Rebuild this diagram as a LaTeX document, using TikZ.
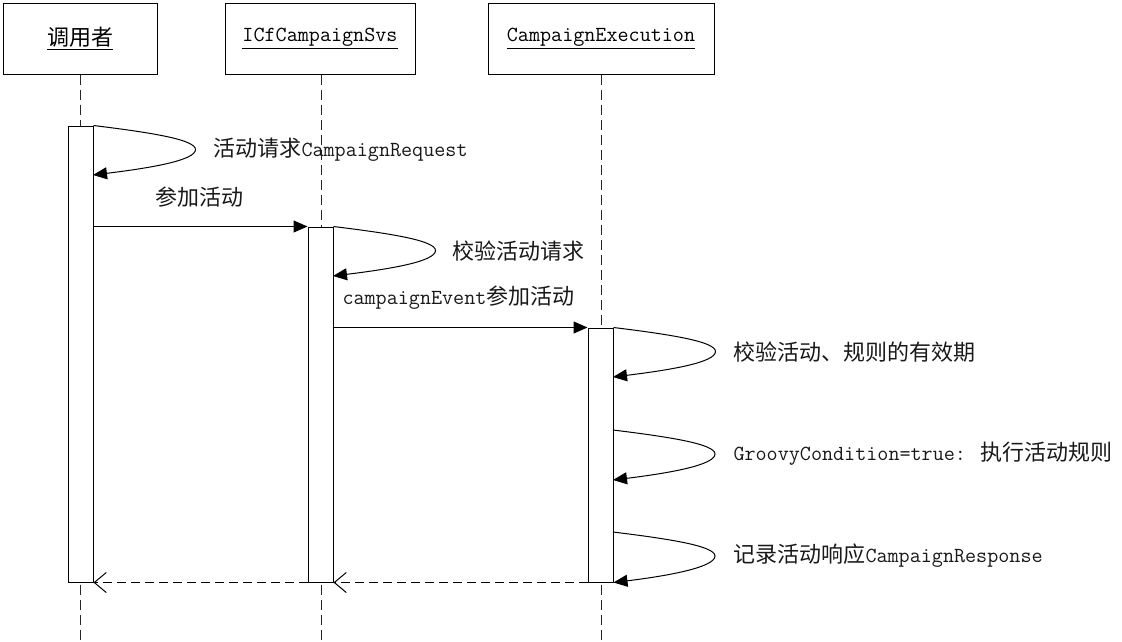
\documentclass[tikz,border=0pt]{standalone}
\usepackage{fontspec}
\newfontfamily\cjk{Noto Sans CJK SC}
\usetikzlibrary{arrows.meta,calc}
\newcommand\zh[1]{{\cjk\fontsize{22}{24}\selectfont #1}}
\newcommand\lt{\ttfamily\fontsize{21.5}{24}\selectfont}
\begin{document}
\begin{tikzpicture}[x=1pt,y=-1pt,line width=1pt,
  box/.style={draw, fill=white, minimum width=#1, minimum height=71pt, inner sep=0, font=\lt},
  bar/.style={draw, fill=white, minimum width=25pt, inner sep=0},
  life/.style={draw=black!85, dash pattern=on 10pt off 5pt},
  msg/.style={-{Triangle[length=14pt,width=12pt]}},
  ret/.style={dash pattern=on 9pt off 5pt, -{Straight Barb[length=12pt,width=20pt,line width=1pt]}},
  lbl/.style={anchor=west, inner sep=0, font=\lt, text=black!90},
  selfloop/.style={to path={.. controls ($(\tikztostart)+(57,7)$) and ($(\tikztostart)+(102,14)$) .. ($(\tikztostart)+(102,24)$) .. controls ($(\tikztostart)+(102,35)$) and ($(\tikztotarget)+(57,-7)$) .. (\tikztotarget)}}]
\useasboundingbox (0,0) rectangle (1122,641);
% header boxes
\node[box=154pt] (A) at (80,38.5) {$\underline{\hbox{\zh{调用者}}}$};
\node[box=190pt] (B) at (320,38.5) {$\underline{\hbox{\lt ICfCampaignSvs}}$};
\node[box=226pt] (C) at (601,38.5) {$\underline{\hbox{\lt CampaignExecution}}$};
% lifeline ends
\coordinate (Ae) at (80,641);
\coordinate (Be) at (321,641);
\coordinate (Ce) at (601,641);
\draw[life] (A.south) -- (Ae);
\draw[life] (B.south -| Be) -- (Be);
\draw[life] (C.south) -- (Ce);
% activation bars
\node[bar, minimum height=456pt] (B1) at (80.5,354) {};
\node[bar, minimum height=355pt] (B2) at (320.5,404.5) {};
\node[bar, minimum height=254pt] (B3) at (600.5,455) {};
% self-message endpoints
\coordinate (s1) at (93,175);
\coordinate (s2) at (333,276);
\coordinate (s3) at (613,377);
\coordinate (t4) at (613,430);
\coordinate (s4) at (613,480);
\coordinate (t5) at (613,532);
% self messages
\draw[msg, selfloop] (B1.north east) to (s1);
\draw[msg, selfloop] (B2.north east) to (s2);
\draw[msg, selfloop] (B3.north east) to (s3);
\draw[msg, selfloop] (t4) to (s4);
\draw[msg, selfloop] (t5) to (B3.south east);
% calls
\draw[msg] (B1.east |- B2.north west) -- (B2.north west);
\draw[msg] (B2.east |- B3.north west) -- (B3.north west);
% returns
\draw[ret] (B3.south west) -- (B2.south east);
\draw[ret] (B2.south west) -- (B1.south east);
% labels
\node[lbl] (l1) at (213,150) {\zh{活动请求}CampaignRequest};
\node[lbl] (l2) at (155,197) {\zh{参加活动}};
\node[lbl] (l3) at (452,251) {\zh{校验活动请求}};
\node[lbl] (l4) at (342,298) {campaignEvent\zh{参加活动}};
\node[lbl] (l5) at (733,352) {\zh{校验活动、规则的有效期}};
\node[lbl] (l6) at (733,454) {GroovyCondition=true: \zh{执行活动规则}};
\node[lbl] (l7) at (733,556) {\zh{记录活动响应}CampaignResponse};
\end{tikzpicture}
\end{document}
